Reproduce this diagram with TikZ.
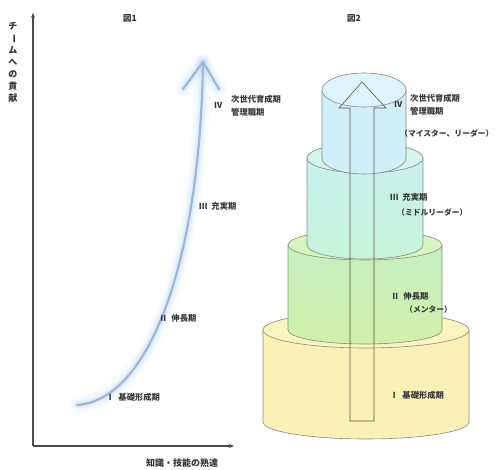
\documentclass[tikz,border=0pt]{standalone}
\usepackage{fontspec}
\usetikzlibrary{arrows.meta}
\setmainfont{Noto Sans CJK JP}
\definecolor{glowblue}{HTML}{8CBDEF}
\definecolor{coreblue}{HTML}{9DB7DC}
\definecolor{tierline}{HTML}{8A8A80}
\definecolor{arrowline}{HTML}{5E5440}
\definecolor{tfourbody}{HTML}{CFEFFA}
\definecolor{tfourtop}{HTML}{DDF4FC}
\definecolor{tthreetop}{HTML}{C8F0EE}
\definecolor{tthreebot}{HTML}{C6F4DA}
\definecolor{tthreecap}{HTML}{D3F5EC}
\definecolor{ttwotop}{HTML}{C6F0C2}
\definecolor{ttwobot}{HTML}{CFF0AA}
\definecolor{ttwocap}{HTML}{D6F6C0}
\definecolor{tonebody}{HTML}{FBF1B6}
\definecolor{tonecap}{HTML}{FCF4C0}
\begin{document}
\begin{tikzpicture}[x=1pt,y=-1pt,
  every node/.style={inner sep=0pt},
  lbl/.style={anchor=west,font=\fontsize{8.3}{13.5}\selectfont\bfseries,align=left,text=black!78},
  axislbl/.style={font=\fontsize{9}{12}\selectfont\bfseries,text=black!80},
  axisline/.style={line width=1.3pt,draw=black!70,-{Stealth[length=5pt,width=4pt]}},
  tier/.style={draw=tierline,line width=0.6pt},
  bigarrow/.style={draw=arrowline,line width=0.6pt}]
\useasboundingbox (0,0) rectangle (499,470);

% ---------- Figure 1 ----------
\node[axislbl,font=\fontsize{8.5}{10}\selectfont\bfseries] (fig1) at (130,18) {図1};
\coordinate (origin) at (33,446);
\coordinate (ytop) at (33,13);
\coordinate (xend) at (234,446);
\draw[axisline] (origin) -- (ytop);
\draw[axisline] (origin) -- (xend);
\node[axislbl,align=center,font=\fontsize{9}{12}\selectfont\bfseries] (ylabel) at (13,62)
  {チ\\\rotatebox[origin=c]{-90}{ー}\\ム\\へ\\の\\貢\\献};
\node[axislbl,anchor=west] (xlabel) at (146,463) {知識・技能の熟達};

\coordinate (c0) at (77,405);
\coordinate (c1) at (150,400);
\coordinate (c2) at (200,260);
\coordinate (c3) at (203,62);
\coordinate (hl) at (183,89);
\coordinate (hr) at (219,89);
\foreach \w/\o in {18/0.04,13/0.06,9/0.08,6/0.12}{
  \draw[line width=\w pt,draw=glowblue,opacity=\o,line cap=round,line join=round]
    (c0) .. controls (c1) and (c2) .. (c3);
  \draw[line width=\w pt,draw=glowblue,opacity=\o,line cap=round,line join=round]
    (hl) -- (c3) -- (hr);
}
\draw[line width=2.2pt,draw=coreblue,line cap=round] (c0) .. controls (c1) and (c2) .. (c3);
\draw[line width=2.2pt,draw=coreblue,line cap=round,line join=round] (hl) -- (c3) -- (hr);

\node[lbl] (l1) at (106,397) {Ⅰ\hspace{4pt}基礎形成期};
\node[lbl] (l2) at (159,318) {Ⅱ\hspace{4pt}伸長期};
\node[lbl] (l3) at (199,206) {Ⅲ\hspace{4pt}充実期};
\node[lbl] (l4n) at (214,105) {Ⅳ};
\node[lbl] (l4) at (231,106) {次世代育成期\\管理職期};

% ---------- Figure 2 ----------
\node[axislbl,font=\fontsize{8.5}{10}\selectfont\bfseries] (fig2) at (354,18) {図2};

% tier 1 (bottom)
\path[tier,fill=tonebody] (263,330) -- (263,422)
  arc[start angle=180,end angle=360,x radius=103pt,y radius=17pt] -- (469,330) -- cycle;
\path[tier,fill=tonecap] (366,330) ellipse[x radius=103pt,y radius=18pt];
% tier 2
\path[tier,top color=ttwotop,bottom color=ttwobot] (288,245) -- (288,330)
  arc[start angle=180,end angle=360,x radius=77pt,y radius=14pt] -- (442,245) -- cycle;
\path[tier,fill=ttwocap] (365,245) ellipse[x radius=77pt,y radius=15pt];
% tier 3
\path[tier,top color=tthreetop,bottom color=tthreebot] (307,158) -- (307,245)
  arc[start angle=180,end angle=360,x radius=58pt,y radius=14pt] -- (423,158) -- cycle;
\path[tier,fill=tthreecap] (365,158) ellipse[x radius=58pt,y radius=15pt];
% tier 4 (top)
\path[tier,fill=tfourbody] (322,90) -- (322,158)
  arc[start angle=180,end angle=360,x radius=42pt,y radius=16pt] -- (406,90) -- cycle;
\path[tier,fill=tfourtop] (364,90) ellipse[x radius=42pt,y radius=17pt];

% hollow arrow
\coordinate (abl) at (350,421);
\coordinate (abr) at (374,421);
\coordinate (asl) at (350,108);
\coordinate (asr) at (374,108);
\coordinate (awl) at (339,108);
\coordinate (awr) at (386,108);
\coordinate (atip) at (362,82);
\draw[bigarrow,line join=miter] (abl) -- (asl) -- (awl) -- (atip) -- (awr) -- (asr) -- (abr) -- cycle;

\node[lbl] (r4n) at (394,104) {Ⅳ};
\node[lbl] (r4) at (410,105) {次世代育成期\\管理職期};
\node[lbl,font=\fontsize{7.8}{10}\selectfont\bfseries] (r4b) at (400,133) {（マイスター、リーダー）};
\node[lbl] (r3) at (390,197) {Ⅲ\hspace{4pt}充実期};
\node[lbl,font=\fontsize{7.8}{10}\selectfont\bfseries] (r3b) at (397,212) {（ミドルリーダー）};
\node[lbl] (r2) at (391,296) {Ⅱ\hspace{4pt}伸長期};
\node[lbl,font=\fontsize{7.8}{10}\selectfont\bfseries] (r2b) at (405,310) {（メンター）};
\node[lbl] (r1) at (390,395) {Ⅰ\hspace{4pt}基礎形成期};
\end{tikzpicture}
\end{document}
